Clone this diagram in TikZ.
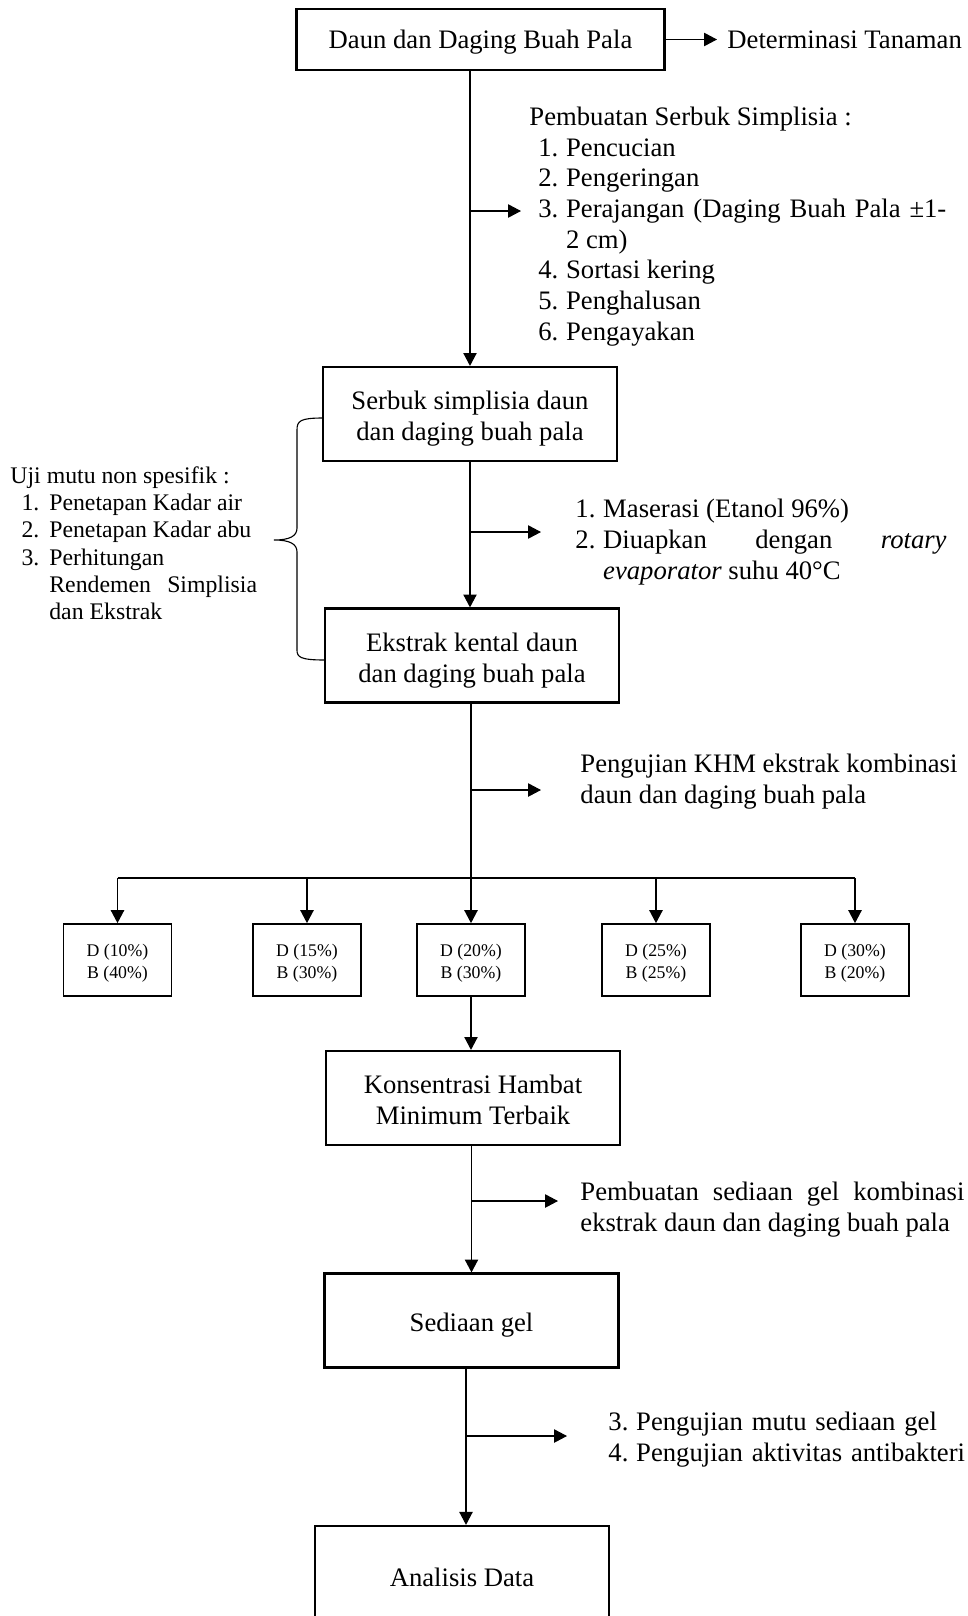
\documentclass[tikz,border=0pt]{standalone}
\usepackage{fontspec}
\setmainfont{Liberation Serif}
\usetikzlibrary{arrows.meta}

% numbered line with hanging indent
\newcommand{\numline}[3]{\noindent\hangindent=\dimexpr#1+12.5pt\relax\hangafter=1\hspace*{#1}\makebox[12.5pt][l]{#2}#3\par}
% struts that put the box text a little lower
\newcommand{\toprule}[1]{\rule{0pt}{#1}}

\tikzset{
  box/.style={draw,line width=1pt,minimum width=132.3pt,minimum height=42.3pt,align=center,inner sep=2pt,
    execute at end node={\rule[-4.2pt]{0pt}{4.2pt}}},
  smallbox/.style={draw,line width=0.8pt,minimum width=48.6pt,minimum height=32.4pt,align=center,
    font=\fontsize{8}{9.7}\selectfont},
  note/.style={anchor=north west,inner sep=0pt,align=justify},
  link/.style={line width=0.5pt},
}

\begin{document}
\begin{tikzpicture}[x=0.45pt,y=-0.45pt,>={Triangle[length=5.8pt,width=6pt]},font=\fontsize{12}{13.8}\selectfont]
\useasboundingbox (0,0) rectangle (968,1616);

% main column
\node[box,minimum width=165.6pt,minimum height=27.5pt] (daun) at (480.5,39.5) {\toprule{12pt}Daun dan Daging Buah Pala};
\node[box] (serbuk) at (470,414) {\toprule{14pt}Serbuk simplisia daun\\dan daging buah pala};
\node[box] (ekstrak) at (472,655.5) {\toprule{14.5pt}Ekstrak kental daun\\dan daging buah pala};
\node[box] (khm) at (473,1098) {\toprule{14pt}Konsentrasi Hambat\\Minimum Terbaik};
\node[box] (gel) at (471.5,1320.5) {\toprule{14pt}Sediaan gel};
\node[box,minimum height=44.4pt] (analisis) at (462,1575.3) {\toprule{14pt}Analisis Data};

% kombinasi D/B
\foreach \i/\xx/\dd/\bb in {1/117.5/10/40,2/307/15/30,3/471/20/30,4/656/25/25,5/855/30/20}
  \node[smallbox] (komb\i) at (\xx,960) {\toprule{8.5pt}D (\dd\%)\\B (\bb\%)};

% notes
\node[anchor=west,inner xsep=4.5pt,inner ysep=0pt] (determ) at (717,39.5) {Determinasi Tanaman};
\node[note,text width=187.6pt] (simpl) at (529,106.5) {%
  \noindent Pembuatan Serbuk Simplisia :\par
  \numline{4pt}{1.}{Pencucian}
  \numline{4pt}{2.}{Pengeringan}
  \numline{4pt}{3.}{Perajangan (Daging Buah Pala ±1-\linebreak 2 cm)}
  \numline{4pt}{4.}{Sortasi kering}
  \numline{4pt}{5.}{Penghalusan}
  \numline{4pt}{6.}{Pengayakan}};
\node[note,text width=111pt,font=\fontsize{10.7}{12.3}\selectfont] (uji) at (10,466) {%
  \noindent Uji mutu non spesifik :\par
  \numline{5pt}{1.}{Penetapan Kadar air}
  \numline{5pt}{2.}{Penetapan Kadar abu}
  \numline{5pt}{3.}{Perhitungan\hfil\break Rendemen Simplisia\linebreak dan Ekstrak}};
\node[note,text width=167pt] (maserasi) at (575,499) {%
  \numline{0pt}{1.}{Maserasi (Etanol 96\%)}
  \numline{0pt}{2.}{Diuapkan dengan \textit{rotary}\linebreak \textit{evaporator} suhu 40°C}};
\node[note,align=left] (khmnote) at (580,754) {Pengujian KHM ekstrak kombinasi\\daun dan daging buah pala};
\node[note,text width=172.8pt] (gelnote) at (580,1182) {Pembuatan sediaan gel kombinasi\linebreak ekstrak daun dan daging buah pala};
\node[note,text width=165pt,align=left] (mutu) at (608,1412) {%
  \numline{0pt}{3.}{Pengujian mutu sediaan gel}
  \numline{0pt}{4.}{Pengujian aktivitas antibakteri}};

% connectors
\coordinate (a1) at (521,211);
\coordinate (a2) at (541,532);
\coordinate (a3) at (541,790);
\coordinate (br) at (0,878);
\coordinate (a4) at (558,1201);
\coordinate (a5) at (567,1436);
\coordinate (low) at (466,0);
\draw[link,->] (daun.east) -- (determ.west);
\draw[link,->] (daun.south -| serbuk.north) -- (serbuk.north);
\draw[link,->] (a1 -| serbuk.north) -- (a1);
\draw[link,->] (serbuk.south) -- (serbuk.south |- ekstrak.north);
\draw[link,->] (a2 -| serbuk.south) -- (a2);
\draw[link,->] (komb3.north |- ekstrak.south) -- (komb3.north);
\draw[link,->] (a3 -| komb3.north) -- (a3);
\draw[link] (br -| komb1.north) -- (br -| komb5.north);
\foreach \i in {1,2,4,5} \draw[link,->] (br -| komb\i.north) -- (komb\i.north);
\draw[link,->] (komb3.south) -- (komb3.south |- khm.north);
\draw[link,->] (khm.south -| gel.north) -- (gel.north);
\draw[link,->] (a4 -| gel.north) -- (a4);
\draw[link,->] (gel.south -| low) -- (analisis.north -| low);
\draw[link,->] (a5 -| low) -- (a5);

% brace for uji mutu
\draw[link] (323,418) .. controls (300,418) and (297,421) .. (297,430) -- (297,528)
  .. controls (297,536) and (290,540) .. (274,540)
  .. controls (290,540) and (297,544) .. (297,552) -- (297,650)
  .. controls (297,657) and (300,660) .. (325,660);
\end{tikzpicture}
\end{document}
